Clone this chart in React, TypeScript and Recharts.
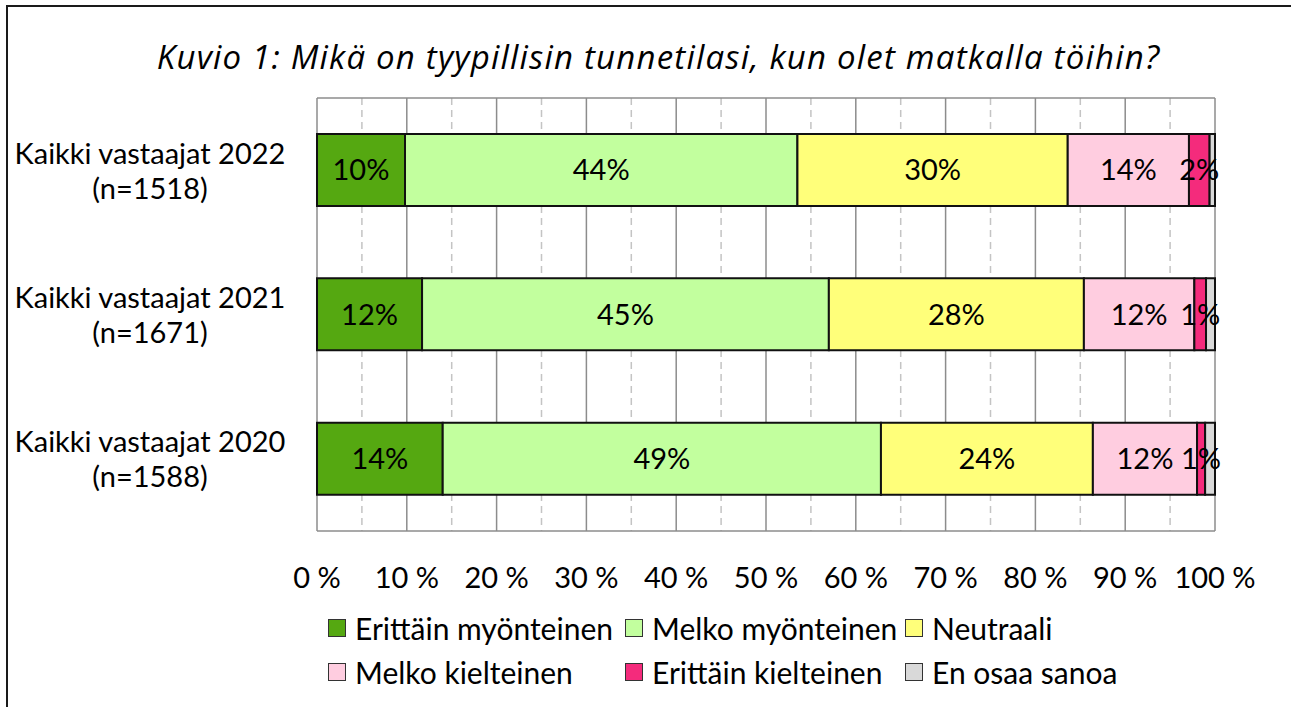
import React from 'react'
import {
  BarChart,
  Bar,
  XAxis,
  YAxis,
  CartesianGrid,
  LabelList,
} from 'recharts'

const categories = ['Kaikki vastaajat 2022', 'Kaikki vastaajat 2021', 'Kaikki vastaajat 2020']
const sampleSizes = [1518, 1671, 1588]

const erittainMyonteinen = [9.8, 11.7, 14.0]
const melkoMyonteinen = [43.7, 45.3, 48.8]
const neutraali = [30.1, 28.4, 23.6]
const melkoKielteinen = [13.5, 12.3, 11.6]
const erittainKielteinen = [2.3, 1.3, 0.9]
const enOsaaSanoa = [0.6, 1.0, 1.1]

const majorTicks = [0, 10, 20, 30, 40, 50, 60, 70, 80, 90, 100]
const minorTicks = [5, 15, 25, 35, 45, 55, 65, 75, 85, 95]

const FONT = 'Lato, "DejaVu Sans", sans-serif'
const FS = 29

const series = [
  { key: 'em', name: 'Erittäin myönteinen', values: erittainMyonteinen, color: '#55a811', label: true },
  { key: 'mm', name: 'Melko myönteinen', values: melkoMyonteinen, color: '#c2ff9e', label: true },
  { key: 'ne', name: 'Neutraali', values: neutraali, color: '#ffff7a', label: true },
  { key: 'mk', name: 'Melko kielteinen', values: melkoKielteinen, color: '#ffcde0', label: true },
  { key: 'ek', name: 'Erittäin kielteinen', values: erittainKielteinen, color: '#f42b7c', label: true },
  { key: 'eos', name: 'En osaa sanoa', values: enOsaaSanoa, color: '#d9d9d9', label: false },
]

const data = categories.map((name, i) => {
  const row: Record<string, string | number> = { name, n: sampleSizes[i] }
  series.forEach((s) => {
    row[s.key] = s.values[i]
  })
  return row
})

// legend columns / rows as in the original layout
const legendRows = [
  [0, 1, 2],
  [3, 4, 5],
]
const legendCols = [328, 625, 905]
const legendRowY = [628, 672]

function CategoryTick(props: any) {
  const { y, payload } = props
  const idx = categories.indexOf(payload.value)
  return (
    <g>
      <text x={150} y={y - 18} textAnchor="middle" dominantBaseline="central" fontSize={FS} fontFamily={FONT} fill="#000">
        {payload.value}
      </text>
      <text x={150} y={y + 17} textAnchor="middle" dominantBaseline="central" fontSize={FS} fontFamily={FONT} fill="#000">
        {`(n=${sampleSizes[idx]})`}
      </text>
    </g>
  )
}

// dashed lines halfway between the major ticks, placed with the x scale
const minorLines = ({ xAxis, offset }: any) =>
  minorTicks.map((t) =>
    xAxis && typeof xAxis.scale === 'function' ? xAxis.scale(t) : offset.left + (t / 100) * offset.width
  )

// plot frame: top and bottom edges of the plot area
const frameLines = ({ offset }: any) => [offset.top, offset.top + offset.height]

export default function App() {
  return (
    <div
      style={{
        position: 'absolute',
        left: 0,
        top: 0,
        width: 1291,
        height: 707,
        background: '#fff',
        overflow: 'hidden',
        fontFamily: FONT,
      }}
    >
      <div
        style={{
          position: 'absolute',
          left: 6,
          top: 5,
          width: 1320,
          height: 800,
          border: '2px solid #1a1a1a',
        }}
      />
      <div
        style={{
          position: 'absolute',
          left: 0,
          top: 36,
          width: 1317,
          textAlign: 'center',
          fontStyle: 'italic',
          fontFamily: '"Open Sans", sans-serif',
          fontSize: 33,
          letterSpacing: 1.2,
          lineHeight: '42px',
          color: '#000',
          whiteSpace: 'nowrap',
        }}
      >
        Kuvio 1: Mikä on tyypillisin tunnetilasi, kun olet matkalla töihin?
      </div>

      <div style={{ position: 'absolute', left: 0, top: 0 }}>
        <BarChart
          width={1291}
          height={707}
          data={data}
          layout="vertical"
          margin={{ top: 98, right: 76, left: 17, bottom: 0 }}
          barSize={72}
        >
          <CartesianGrid
            horizontal={false}
            stroke="#c4c4c4"
            strokeWidth={1.5}
            strokeDasharray="7 5"
            verticalCoordinatesGenerator={minorLines}
          />
          <CartesianGrid
            stroke="#8c8c8c"
            strokeWidth={1.5}
            horizontalCoordinatesGenerator={frameLines}
          />
          <XAxis
            type="number"
            domain={[0, 100]}
            ticks={majorTicks}
            tickFormatter={(v) => `${v} %`}
            axisLine={false}
            tickLine={false}
            tickMargin={30}
            height={176}
            tick={{ fontSize: FS, fill: '#000', fontFamily: FONT }}
            interval={0}
          />
          <YAxis
            type="category"
            dataKey="name"
            width={300}
            axisLine={false}
            tickLine={false}
            tick={<CategoryTick />}
            interval={0}
          />
          {series.map((s) => (
            <Bar
              key={s.key}
              dataKey={s.key}
              name={s.name}
              stackId="a"
              fill={s.color}
              stroke="#111"
              strokeWidth={2}
              isAnimationActive={false}
            >
              {s.label && (
                <LabelList
                  dataKey={s.key}
                  position="center"
                  formatter={(v: any) => `${Math.round(Number(v))}%`}
                  fill="#000"
                  fontSize={FS}
                  fontFamily={FONT}
                />
              )}
            </Bar>
          ))}
        </BarChart>
      </div>

      {legendRows.map((row, r) =>
        row.map((si, c) => {
          const s = series[si]
          return (
            <div
              key={s.key}
              style={{
                position: 'absolute',
                left: legendCols[c],
                top: legendRowY[r] - 18,
                height: 36,
                display: 'flex',
                alignItems: 'center',
                whiteSpace: 'nowrap',
                fontSize: 30,
                color: '#000',
              }}
            >
              <span
                style={{
                  display: 'inline-block',
                  width: 16,
                  height: 16,
                  background: s.color,
                  border: '1.5px solid #333',
                  marginRight: 9,
                }}
              />
              {s.name}
            </div>
          )
        })
      )}
    </div>
  )
}
